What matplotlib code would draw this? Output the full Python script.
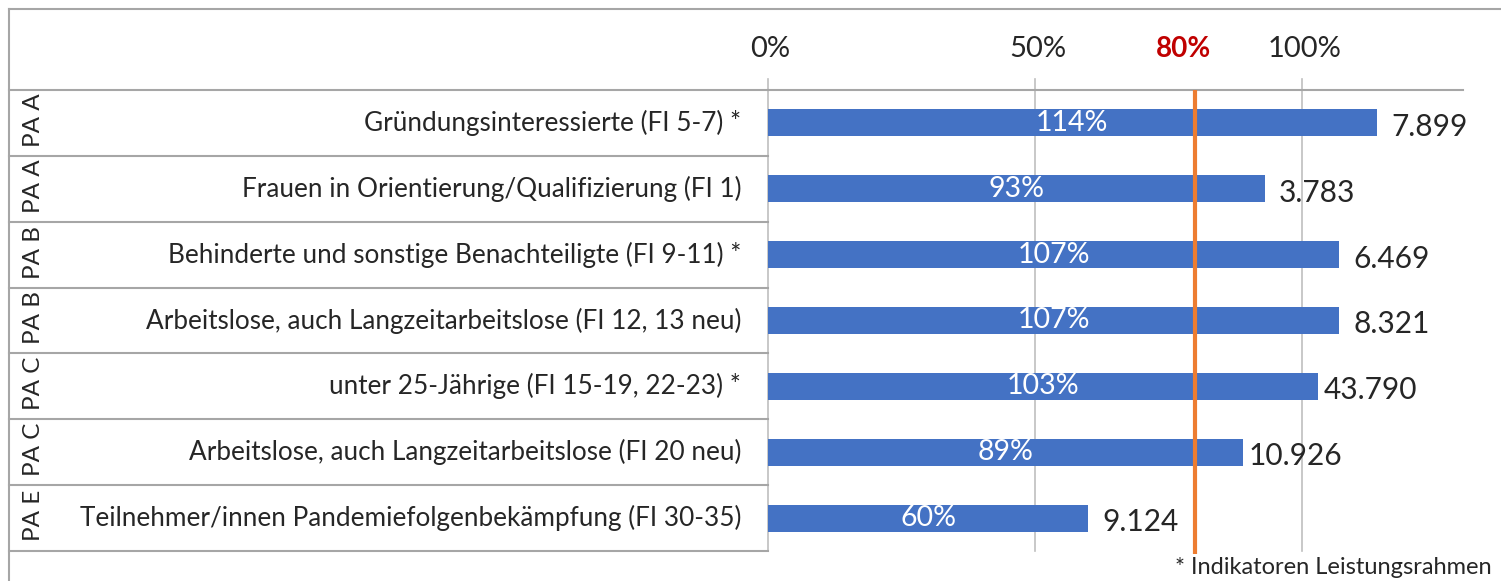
import matplotlib.pyplot as plt
from matplotlib.transforms import blended_transform_factory

# data
groups = ["PA A", "PA A", "PA B", "PA B", "PA C", "PA C", "PA E"]
categories = [
    "Gründungsinteressierte (FI 5-7) *",
    "Frauen in Orientierung/Qualifizierung (FI 1)",
    "Behinderte und sonstige Benachteiligte (FI 9-11) *",
    "Arbeitslose, auch Langzeitarbeitslose (FI 12, 13 neu)",
    "unter 25-Jährige (FI 15-19, 22-23) *",
    "Arbeitslose, auch Langzeitarbeitslose (FI 20 neu)",
    "Teilnehmer/innen Pandemiefolgenbekämpfung (FI 30-35)",
]
percent = [114, 93, 107, 107, 103, 89, 60]
counts = ["7.899", "3.783", "6.469", "8.321", "43.790", "10.926", "9.124"]
target = 80
tick_values = [0, 50, 100]
tick_labels = ["0%", "50%", "100%"]
footnote = "* Indikatoren Leistungsrahmen"

plt.rcParams['font.family'] = ['Lato', 'DejaVu Sans']
text_col = '#262626'
line_col = '#A6A6A6'
grid_col = '#BFBFBF'

W, H = 1501, 581
fig = plt.figure(figsize=(W / 100, H / 100), dpi=100)

# axes placed in pixel terms: 0% at x=768, 100% at x=1302
x0, x_right = 768, 1463
px_per_pct = (1302 - 768) / 100
y_top, y_bot = 90, 551
ax = fig.add_axes([x0 / W, 1 - y_bot / H, (x_right - x0) / W, (y_bot - y_top) / H])
ax.set_xlim(0, (x_right - x0) / px_per_pct)
n = len(categories)
ax.set_ylim(n - 0.5, -0.5)

ypos = list(range(n))
ax.barh(ypos, percent, height=0.41, color='#4472C4', zorder=3)

for i in ypos:
    ax.text(percent[i] / 2, i, f"{percent[i]}%", ha='center', va='center',
            color='white', fontsize=20.5, zorder=4)
    ax.text(percent[i] + 9.8, i + 0.06, counts[i], ha='center', va='center',
            color=text_col, fontsize=21.5)
    ax.text(-5, i, categories[i], ha='right', va='center', color=text_col, fontsize=18.8)

# target line
ax.plot([target, target], [-0.5, n - 0.5 + 0.05], color='#ED7D31', lw=3,
        zorder=5, clip_on=False, solid_capstyle='butt')

# gridlines with small ticks above the top line
for v in tick_values:
    ax.plot([v, v], [-0.5 - 0.16, n - 0.5], color=grid_col, lw=1.2,
            zorder=1, clip_on=False)

# top tick labels
tr_top = blended_transform_factory(ax.transData, fig.transFigure)
for v, lab in zip(tick_values, tick_labels):
    ax.text(v + 0.5, 1 - 49 / H, lab, ha='center', va='center',
            color=text_col, fontsize=21, transform=tr_top)
ax.text(target - 2.2, 1 - 49 / H, f"{target}%", ha='center', va='center',
        color='#C00000', fontsize=20, fontweight='bold', transform=tr_top)

for s in ['left', 'right', 'bottom']:
    ax.spines[s].set_visible(False)
ax.spines['top'].set_color(line_col)
ax.spines['top'].set_linewidth(1.5)
ax.set_xticks([])
ax.set_yticks([])

# table lines on the left
tr_rows = blended_transform_factory(fig.transFigure, ax.transData)
left_x = 9 / W
for b in range(n + 1):
    ax.plot([left_x, x0 / W], [b - 0.5, b - 0.5], color=line_col, lw=1.5,
            transform=tr_rows, clip_on=False)
fig.add_artist(plt.Line2D([left_x, 1], [1 - 9 / H, 1 - 9 / H], color=line_col, lw=1.5))
fig.add_artist(plt.Line2D([left_x, left_x], [0, 1 - 9 / H], color=line_col, lw=1.5))

for i in ypos:
    ax.text(33 / W, i - 0.04, groups[i], rotation=90, ha='center', va='center',
            color=text_col, fontsize=17.5, transform=tr_rows)

fig.text(1492 / W, 1 - 567 / H, footnote, ha='right', va='center',
         color=text_col, fontsize=17)

fig.savefig('out.png', dpi=100)
